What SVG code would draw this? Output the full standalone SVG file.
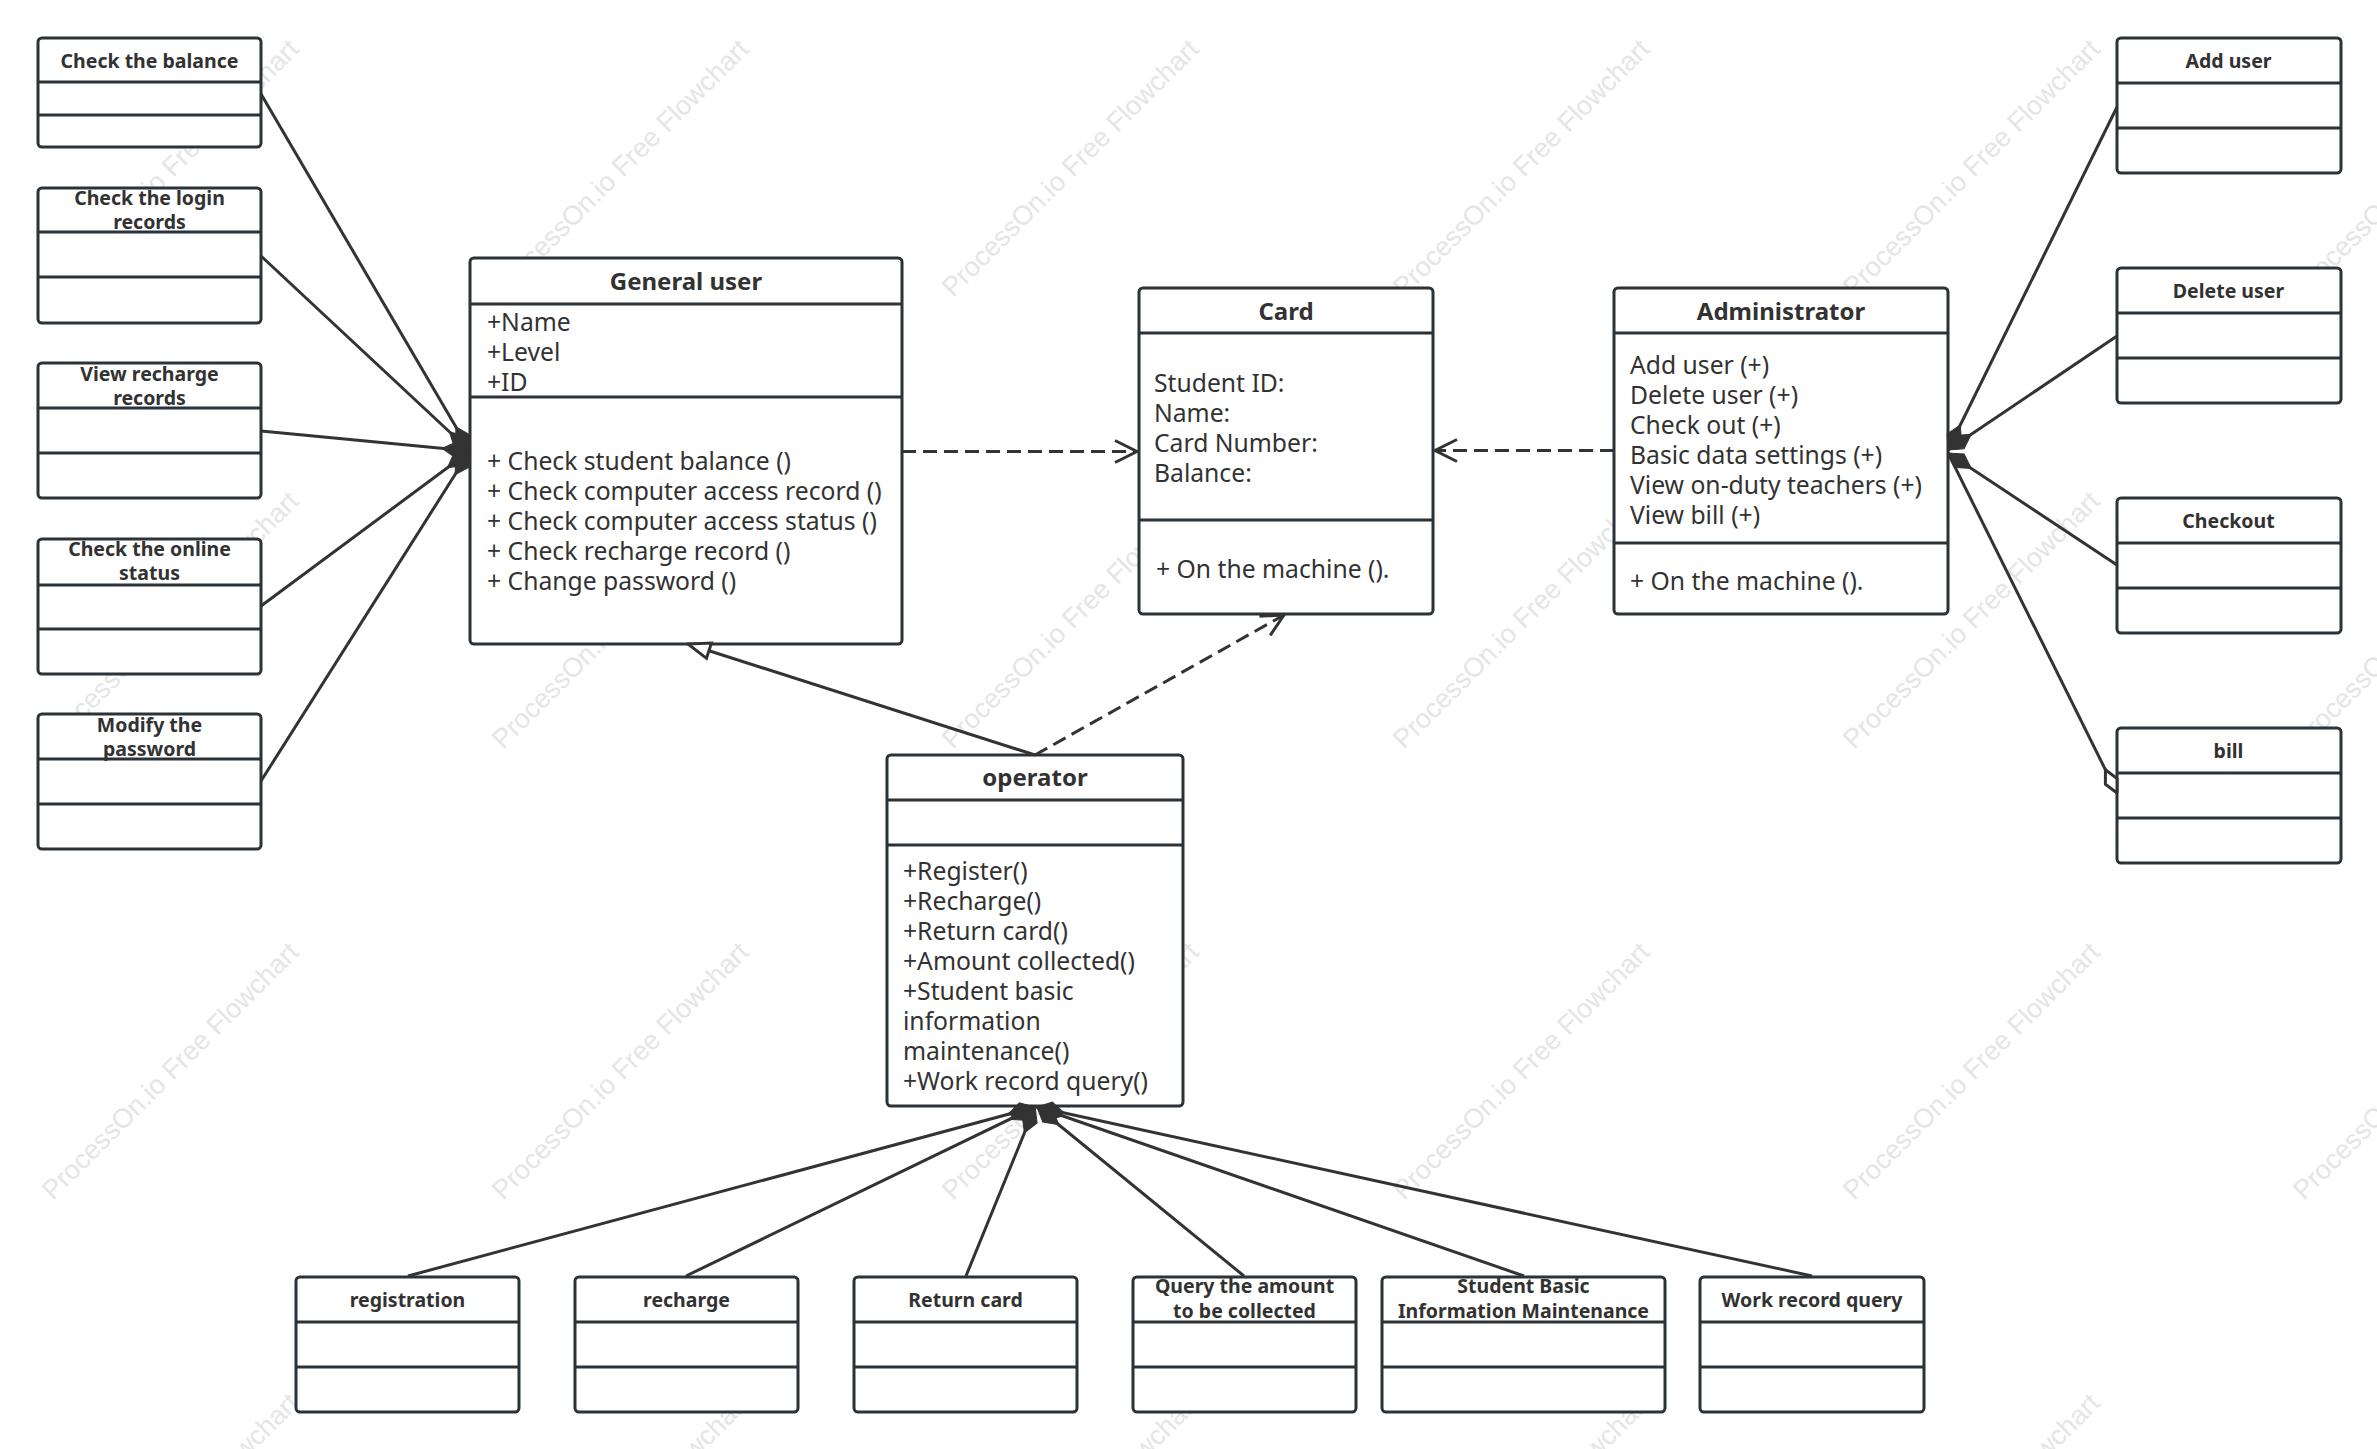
<svg xmlns="http://www.w3.org/2000/svg" width="2377" height="1449" viewBox="0 0 2377 1449">
<style>
text{font-family:"Noto Sans","Open Sans","Liberation Sans",sans-serif;fill:#323232}
.b{font-size:24.700px;transform:translateY(1.5px)}
.t{font-size:24px;font-weight:700;text-anchor:middle}
.s{font-size:19.500px;font-weight:700;text-anchor:middle}
.w{font-size:27px;fill:#e5e5e5;font-family:"Liberation Sans",sans-serif}
.box{fill:#fff;stroke:#2b3238;stroke-width:3}
.div{stroke:#2b3238;stroke-width:3;fill:none}
.c{stroke:#333;stroke-width:3;fill:none}
.d{stroke-dasharray:14 7}
.fd{marker-end:url(#fd)}
</style>
<defs>
<marker id="fd" markerUnits="userSpaceOnUse" markerWidth="30" markerHeight="20" viewBox="0 0 30 20" refX="29" refY="10" orient="auto"><path d="M29 10L15 2L1 10L15 18Z" fill="#333" stroke="#333"/></marker>
<marker id="od" markerUnits="userSpaceOnUse" markerWidth="28" markerHeight="16" viewBox="0 0 28 16" refX="27" refY="8" orient="auto"><path d="M27 8L14 1.5L1 8L14 14.5Z" fill="#fff" stroke="#333" stroke-width="3"/></marker>
<marker id="tri" markerUnits="userSpaceOnUse" markerWidth="28" markerHeight="24" viewBox="0 0 28 24" refX="26" refY="12" orient="auto"><path d="M26 12L4 4L4 20Z" fill="#fff" stroke="#333" stroke-width="3"/></marker>
<marker id="ar" markerUnits="userSpaceOnUse" markerWidth="30" markerHeight="30" viewBox="0 0 30 30" refX="26" refY="15" orient="auto"><path d="M4 4L26 15L4 26" fill="none" stroke="#333" stroke-width="3"/></marker>
</defs>
<rect width="2377" height="1449" fill="#fff"/>
<g id="watermark">
<text class="w" transform="translate(53 298) rotate(-45)">ProcessOn.io Free Flowchart</text>
<text class="w" transform="translate(503 298) rotate(-45)">ProcessOn.io Free Flowchart</text>
<text class="w" transform="translate(953 298) rotate(-45)">ProcessOn.io Free Flowchart</text>
<text class="w" transform="translate(1404 298) rotate(-45)">ProcessOn.io Free Flowchart</text>
<text class="w" transform="translate(1854 298) rotate(-45)">ProcessOn.io Free Flowchart</text>
<text class="w" transform="translate(2304 298) rotate(-45)">ProcessOn.io Free Flowchart</text>
<text class="w" transform="translate(53 750) rotate(-45)">ProcessOn.io Free Flowchart</text>
<text class="w" transform="translate(503 750) rotate(-45)">ProcessOn.io Free Flowchart</text>
<text class="w" transform="translate(953 750) rotate(-45)">ProcessOn.io Free Flowchart</text>
<text class="w" transform="translate(1404 750) rotate(-45)">ProcessOn.io Free Flowchart</text>
<text class="w" transform="translate(1854 750) rotate(-45)">ProcessOn.io Free Flowchart</text>
<text class="w" transform="translate(2304 750) rotate(-45)">ProcessOn.io Free Flowchart</text>
<text class="w" transform="translate(53 1201) rotate(-45)">ProcessOn.io Free Flowchart</text>
<text class="w" transform="translate(503 1201) rotate(-45)">ProcessOn.io Free Flowchart</text>
<text class="w" transform="translate(953 1201) rotate(-45)">ProcessOn.io Free Flowchart</text>
<text class="w" transform="translate(1404 1201) rotate(-45)">ProcessOn.io Free Flowchart</text>
<text class="w" transform="translate(1854 1201) rotate(-45)">ProcessOn.io Free Flowchart</text>
<text class="w" transform="translate(2304 1201) rotate(-45)">ProcessOn.io Free Flowchart</text>
<text class="w" transform="translate(53 1652) rotate(-45)">ProcessOn.io Free Flowchart</text>
<text class="w" transform="translate(503 1652) rotate(-45)">ProcessOn.io Free Flowchart</text>
<text class="w" transform="translate(953 1652) rotate(-45)">ProcessOn.io Free Flowchart</text>
<text class="w" transform="translate(1404 1652) rotate(-45)">ProcessOn.io Free Flowchart</text>
<text class="w" transform="translate(1854 1652) rotate(-45)">ProcessOn.io Free Flowchart</text>
<text class="w" transform="translate(2304 1652) rotate(-45)">ProcessOn.io Free Flowchart</text>
</g>
<g id="general-user">
<rect class="box" x="470" y="258" width="432" height="386" rx="4"/>
<path class="div" d="M470 304H902M470 397H902"/>
<text class="t" x="686" y="290">General user</text>
<text class="b" x="487" y="329">+Name</text>
<text class="b" x="487" y="359">+Level</text>
<text class="b" x="487" y="389">+ID</text>
<text class="b" x="487" y="468">+ Check student balance ()</text>
<text class="b" x="487" y="498">+ Check computer access record ()</text>
<text class="b" x="487" y="528">+ Check computer access status ()</text>
<text class="b" x="487" y="558">+ Check recharge record ()</text>
<text class="b" x="487" y="588">+ Change password ()</text>
</g>
<g id="card">
<rect class="box" x="1139" y="288" width="294" height="326" rx="4"/>
<path class="div" d="M1139 333H1433M1139 520H1433"/>
<text class="t" x="1286" y="320">Card</text>
<text class="b" x="1154" y="390">Student ID:</text>
<text class="b" x="1154" y="420">Name:</text>
<text class="b" x="1154" y="450">Card Number:</text>
<text class="b" x="1154" y="480">Balance:</text>
<text class="b" x="1156" y="576">+ On the machine ().</text>
</g>
<g id="administrator">
<rect class="box" x="1614" y="288" width="334" height="326" rx="4"/>
<path class="div" d="M1614 333H1948M1614 543H1948"/>
<text class="t" x="1781" y="320">Administrator</text>
<text class="b" x="1630" y="372">Add user (+)</text>
<text class="b" x="1630" y="402">Delete user (+)</text>
<text class="b" x="1630" y="432">Check out (+)</text>
<text class="b" x="1630" y="462">Basic data settings (+)</text>
<text class="b" x="1630" y="492">View on-duty teachers (+)</text>
<text class="b" x="1630" y="522">View bill (+)</text>
<text class="b" x="1630" y="588">+ On the machine ().</text>
</g>
<g id="operator">
<rect class="box" x="887" y="755" width="296" height="351" rx="4"/>
<path class="div" d="M887 800H1183M887 845H1183"/>
<text class="t" x="1035" y="786">operator</text>
<text class="b" x="903" y="878">+Register()</text>
<text class="b" x="903" y="908">+Recharge()</text>
<text class="b" x="903" y="938">+Return card()</text>
<text class="b" x="903" y="968">+Amount collected()</text>
<text class="b" x="903" y="998">+Student basic</text>
<text class="b" x="903" y="1028">information</text>
<text class="b" x="903" y="1058">maintenance()</text>
<text class="b" x="903" y="1088">+Work record query()</text>
</g>
<g id="check-balance">
<rect class="box" x="38" y="38" width="223" height="109" rx="4"/>
<path class="div" d="M38 82H261M38 115H261"/>
<text class="s" x="149.500" y="68">Check the balance</text>
</g>
<g id="check-login">
<rect class="box" x="38" y="188" width="223" height="135" rx="4"/>
<path class="div" d="M38 232H261M38 277H261"/>
<text class="s" x="149.500" y="205">Check the login</text>
<text class="s" x="149.500" y="229">records</text>
</g>
<g id="view-recharge">
<rect class="box" x="38" y="363" width="223" height="135" rx="4"/>
<path class="div" d="M38 408H261M38 453H261"/>
<text class="s" x="149.500" y="381">View recharge</text>
<text class="s" x="149.500" y="405">records</text>
</g>
<g id="check-online">
<rect class="box" x="38" y="539" width="223" height="135" rx="4"/>
<path class="div" d="M38 585H261M38 629H261"/>
<text class="s" x="149.500" y="556">Check the online</text>
<text class="s" x="149.500" y="580">status</text>
</g>
<g id="modify-password">
<rect class="box" x="38" y="714" width="223" height="135" rx="4"/>
<path class="div" d="M38 759H261M38 804H261"/>
<text class="s" x="149.500" y="732">Modify the</text>
<text class="s" x="149.500" y="756">password</text>
</g>
<g id="add-user">
<rect class="box" x="2117" y="38" width="224" height="135" rx="4"/>
<path class="div" d="M2117 83H2341M2117 128H2341"/>
<text class="s" x="2228.500" y="68">Add user</text>
</g>
<g id="delete-user">
<rect class="box" x="2117" y="268" width="224" height="135" rx="4"/>
<path class="div" d="M2117 313H2341M2117 358H2341"/>
<text class="s" x="2228.500" y="298">Delete user</text>
</g>
<g id="checkout">
<rect class="box" x="2117" y="498" width="224" height="135" rx="4"/>
<path class="div" d="M2117 543H2341M2117 588H2341"/>
<text class="s" x="2228.500" y="528">Checkout</text>
</g>
<g id="bill">
<rect class="box" x="2117" y="728" width="224" height="135" rx="4"/>
<path class="div" d="M2117 773H2341M2117 818H2341"/>
<text class="s" x="2228.500" y="758">bill</text>
</g>
<g id="registration">
<rect class="box" x="296" y="1277" width="223" height="135" rx="4"/>
<path class="div" d="M296 1322H519M296 1367H519"/>
<text class="s" x="407.500" y="1307">registration</text>
</g>
<g id="recharge">
<rect class="box" x="575" y="1277" width="223" height="135" rx="4"/>
<path class="div" d="M575 1322H798M575 1367H798"/>
<text class="s" x="686.500" y="1307">recharge</text>
</g>
<g id="return-card">
<rect class="box" x="854" y="1277" width="223" height="135" rx="4"/>
<path class="div" d="M854 1322H1077M854 1367H1077"/>
<text class="s" x="965.500" y="1307">Return card</text>
</g>
<g id="query-amount">
<rect class="box" x="1133" y="1277" width="223" height="135" rx="4"/>
<path class="div" d="M1133 1322H1356M1133 1367H1356"/>
<text class="s" x="1244.500" y="1293">Query the amount</text>
<text class="s" x="1244.500" y="1318">to be collected</text>
</g>
<g id="student-basic">
<rect class="box" x="1382" y="1277" width="283" height="135" rx="4"/>
<path class="div" d="M1382 1322H1665M1382 1367H1665"/>
<text class="s" x="1523.500" y="1293">Student Basic</text>
<text class="s" x="1523.500" y="1318">Information Maintenance</text>
</g>
<g id="work-record">
<rect class="box" x="1700" y="1277" width="224" height="135" rx="4"/>
<path class="div" d="M1700 1322H1924M1700 1367H1924"/>
<text class="s" x="1812" y="1307">Work record query</text>
</g>
<g id="connectors">
<path class="c fd" d="M261 94L470 451"/>
<path class="c fd" d="M261 256L470 451"/>
<path class="c fd" d="M261 431L470 451"/>
<path class="c fd" d="M261 606L470 451"/>
<path class="c fd" d="M261 781L470 451"/>
<path class="c fd" d="M2117 107L1948 450"/>
<path class="c fd" d="M2117 336L1948 450"/>
<path class="c fd" d="M2117 565L1948 453"/>
<path class="c" d="M1948 453L2117 793" marker-end="url(#od)"/>
<path class="c fd" d="M408 1276L1035 1107"/>
<path class="c fd" d="M686 1276L1035 1107"/>
<path class="c fd" d="M966 1276L1035 1107"/>
<path class="c fd" d="M1244 1276L1037 1107"/>
<path class="c fd" d="M1524 1276L1037 1107"/>
<path class="c fd" d="M1812 1276L1037 1107"/>
<path class="c" d="M1035 755L688 644" marker-end="url(#tri)"/>
<path class="c d" d="M1035 755L1284 615" marker-end="url(#ar)"/>
<path class="c d" d="M902 451.500L1137 451.500" marker-end="url(#ar)"/>
<path class="c d" d="M1614 450.500L1435 450.500" marker-end="url(#ar)"/>
</g>
</svg>
